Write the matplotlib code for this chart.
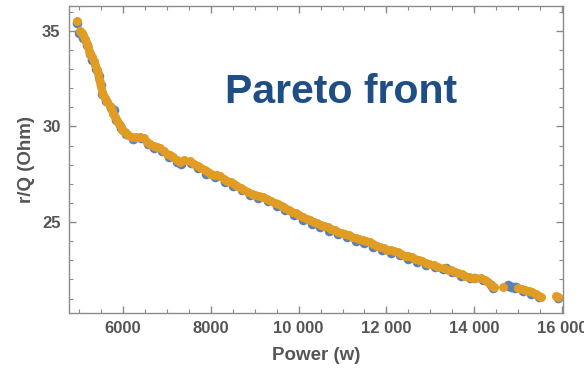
import matplotlib
matplotlib.use("Agg")
import matplotlib.pyplot as plt
from matplotlib.ticker import MultipleLocator, FuncFormatter

plt.rcParams['font.family'] = ['Liberation Sans', 'DejaVu Sans']

# orange series (power in w, r/Q in Ohm)
orange_x = [4965, 5020, 5060, 5095, 5140, 5170, 5200, 5225, 5260, 5290, 5330, 5360, 5400, 5436,
            5460, 5480, 5500, 5515, 5550, 5590, 5640, 5700, 5740, 5780, 5820, 5860, 5900, 5935,
            5980, 6050, 6120, 6200, 6300, 6400, 6470, 6540, 6620, 6700, 6780, 6850, 6930, 7000,
            7070, 7150, 7230, 7300, 7400, 7530, 7620, 7700, 7780, 7860, 7940, 8000, 8080, 8150,
            8220, 8300, 8380, 8450, 8520, 8600, 8680, 8760, 8850, 8940, 9000, 9100, 9200, 9290,
            9380, 9460, 9540, 9620, 9700, 9780, 9860, 9940, 10020, 10100, 10180, 10260, 10340,
            10420, 10500, 10580, 10660, 10740, 10820, 10900, 10980, 11060, 11140, 11220, 11300,
            11380, 11460, 11540, 11620, 11700, 11780, 11860, 11940, 12020, 12100, 12180, 12260,
            12340, 12420, 12500, 12580, 12660, 12740, 12820, 12900, 12980, 13080, 13180, 13300,
            13400, 13480, 13560, 13640, 13720, 13800, 13880, 13960, 14050, 14150, 14240, 14320,
            14400, 14440, 14650, 15000, 15080, 15160, 15240, 15320, 15400, 15480, 15520, 15860,
            15900]
orange_y = [35.50, 35.00, 34.90, 34.78, 34.55, 34.42, 34.15, 33.92, 33.80, 33.62, 33.40, 33.20,
            32.95, 32.78, 32.50, 32.30, 32.05, 31.80, 31.65, 31.48, 31.30, 31.05, 30.85, 30.65,
            30.50, 30.30, 30.15, 30.05, 29.80, 29.70, 29.55, 29.47, 29.45, 29.45, 29.40, 29.20,
            29.10, 28.98, 28.90, 28.85, 28.70, 28.58, 28.50, 28.40, 28.25, 28.15, 28.22, 28.20,
            28.02, 27.95, 27.85, 27.72, 27.60, 27.52, 27.48, 27.45, 27.42, 27.25, 27.15, 27.08,
            26.98, 26.88, 26.80, 26.68, 26.58, 26.45, 26.42, 26.38, 26.32, 26.20, 26.10, 26.02,
            25.92, 25.82, 25.75, 25.65, 25.55, 25.45, 25.35, 25.28, 25.18, 25.10, 25.00, 24.93,
            24.85, 24.78, 24.72, 24.65, 24.58, 24.50, 24.45, 24.40, 24.30, 24.22, 24.15, 24.10,
            24.05, 24.00, 23.95, 23.85, 23.75, 23.68, 23.65, 23.55, 23.52, 23.48, 23.42, 23.35,
            23.25, 23.20, 23.15, 23.08, 23.00, 22.95, 22.88, 22.82, 22.75, 22.66, 22.60, 22.50,
            22.48, 22.40, 22.35, 22.28, 22.20, 22.12, 22.05, 22.08, 22.05, 21.98, 21.88, 21.68,
            21.60, 21.60, 21.55, 21.48, 21.45, 21.40, 21.35, 21.25, 21.15, 21.10, 21.15, 21.10]

# blue series
blue_x = [4960, 5010, 5100, 5180, 5240, 5300, 5380, 5450, 5490, 5530, 5610, 5720, 5790, 5850,
          5950, 6060, 6220, 6420, 6560, 6700, 6880, 7050, 7220, 7320, 7560, 7720, 7900, 8100,
          8320, 8500, 8700, 8900, 9080, 9300, 9500, 9700, 9900, 10100, 10300, 10480, 10700,
          10900, 11100, 11300, 11500, 11700, 11900, 12100, 12300, 12500, 12700, 12900, 13100,
          13280, 13360, 13500, 13700, 13900, 14000, 14200, 14380, 14430, 14760, 14800, 14840,
          14880, 14920, 14960, 15100, 15300, 15480, 15900]
blue_y = [35.40, 34.90, 34.62, 34.28, 33.80, 33.48, 33.02, 32.62, 32.15, 31.68, 31.32, 30.95,
          30.88, 30.35, 29.92, 29.58, 29.36, 29.42, 29.08, 28.85, 28.70, 28.38, 28.12, 28.02,
          28.08, 27.80, 27.52, 27.33, 27.10, 26.88, 26.68, 26.42, 26.26, 26.08, 25.85, 25.62,
          25.38, 25.12, 24.92, 24.72, 24.55, 24.38, 24.22, 24.02, 23.90, 23.72, 23.52, 23.38,
          23.26, 23.08, 22.93, 22.78, 22.65, 22.52, 22.62, 22.40, 22.20, 22.05, 22.08, 21.95,
          21.72, 21.55, 21.72, 21.68, 21.62, 21.58, 21.55, 21.60, 21.38, 21.26, 21.08, 21.04]

x_ticks = [6000, 8000, 10000, 12000, 14000, 16000]
y_ticks = [25, 30, 35]


def fmt_power(v, pos):
    v = int(v)
    return f"{v:,}".replace(",", " ") if v >= 10000 else str(v)


fig = plt.figure(figsize=(5.84, 3.69), dpi=100)
ax = fig.add_axes([0.118, 0.152, 0.846, 0.832])

ax.scatter(blue_x, blue_y, s=48, color=(0.368, 0.507, 0.71), linewidths=0, zorder=2)
ax.scatter(orange_x, orange_y, s=42, color=(0.881, 0.611, 0.142), linewidths=0, zorder=3)

ax.set_xlim(4770, 16020)
ax.set_ylim(20.25, 36.3)

gray = '#8a8a8a'
for s in ax.spines.values():
    s.set_color(gray)
    s.set_linewidth(1.0)

ax.set_xticks(x_ticks)
ax.set_yticks(y_ticks)
ax.xaxis.set_minor_locator(MultipleLocator(500))
ax.yaxis.set_minor_locator(MultipleLocator(1))
ax.xaxis.set_major_formatter(FuncFormatter(fmt_power))
ax.tick_params(which='both', direction='in', top=True, right=True, color=gray)
ax.tick_params(which='major', length=5, width=1, labelsize=12, labelcolor='#555555', pad=6)
ax.tick_params(which='minor', length=3, width=0.8)
for lab in ax.get_xticklabels() + ax.get_yticklabels():
    lab.set_fontweight('bold')

ax.set_xlabel('Power (w)', fontsize=13.5, fontweight='bold', color='#555555', labelpad=8)
ax.set_ylabel('r/Q (Ohm)', fontsize=13.5, fontweight='bold', color='#555555', labelpad=5)

ax.text(0.316, 0.684, 'Pareto front', transform=ax.transAxes, fontsize=29.5, fontweight='bold',
        color='#1f4e86', ha='left', va='baseline')

fig.savefig('out.png', dpi=100)
